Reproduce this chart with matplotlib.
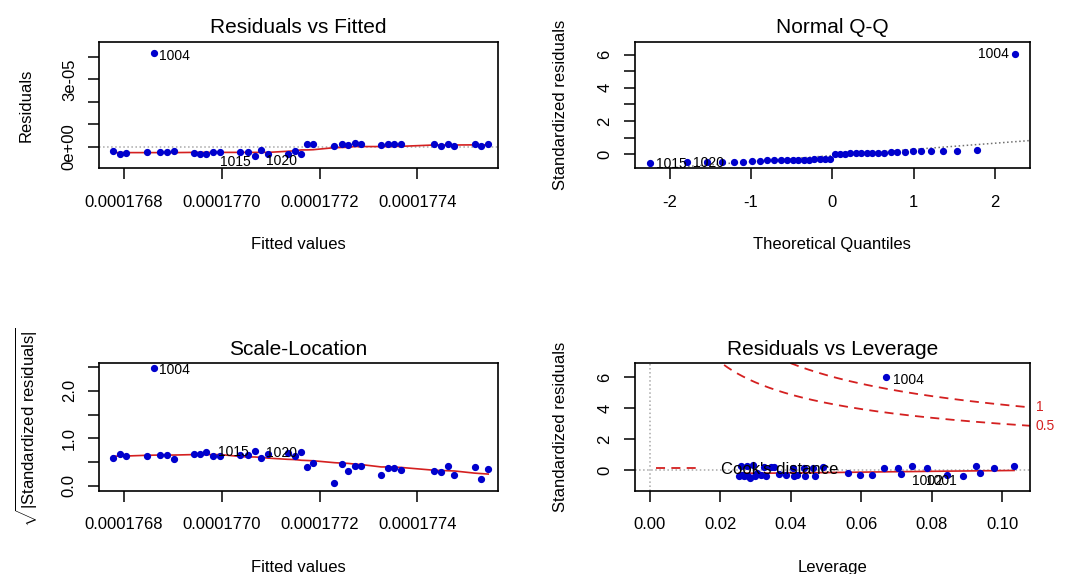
import matplotlib
matplotlib.use("Agg")
import numpy as np
import matplotlib.pyplot as plt

plt.rcParams['font.family'] = ['Liberation Sans', 'DejaVu Sans']
plt.rcParams['mathtext.fontset'] = 'custom'
plt.rcParams['mathtext.rm'] = 'Liberation Sans'
plt.rcParams['mathtext.it'] = 'Liberation Sans:italic'

# fitted values (x 1e-7) with raw residuals (x 1e-5)
fitted = [1767.78, 1767.91, 1768.05, 1768.47, 1768.61, 1768.74, 1768.87, 1769.02,
          1769.43, 1769.55, 1769.68, 1769.82, 1769.97, 1770.38, 1770.54, 1770.67,
          1770.81, 1770.95, 1771.35, 1771.49, 1771.63, 1771.75, 1771.87, 1772.30,
          1772.45, 1772.58, 1772.72, 1772.85, 1773.26, 1773.39, 1773.52, 1773.66,
          1774.35, 1774.49, 1774.63, 1774.76, 1775.17, 1775.31, 1775.45]
resid = [-0.19, -0.32, -0.28, -0.25, 4.16, -0.25, -0.25, -0.18,
         -0.29, -0.31, -0.31, -0.25, -0.25, -0.25, -0.25, -0.40,
         -0.16, -0.32, -0.32, -0.22, -0.32, 0.10, 0.13, 0.04,
         0.13, 0.07, 0.16, 0.10, 0.07, 0.10, 0.10, 0.10,
         0.10, 0.04, 0.10, 0.04, 0.10, 0.04, 0.10]
resid_smooth = [-0.27, -0.27, -0.27, -0.27, -0.27, -0.27, -0.27, -0.27,
                -0.26, -0.26, -0.26, -0.26, -0.26, -0.26, -0.26, -0.26,
                -0.26, -0.26, -0.21, -0.19, -0.15, -0.15, -0.14, -0.05,
                -0.04, -0.03, 0.0, 0.0, 0.0, 0.0, 0.01, 0.01,
                0.07, 0.07, 0.07, 0.07, 0.075, 0.075, 0.075]

# scale-location: sqrt(|standardized residuals|) at the same fitted values
sqrt_std_resid = [0.59, 0.68, 0.63, 0.63, 2.48, 0.66, 0.66, 0.57,
                  0.68, 0.68, 0.71, 0.63, 0.63, 0.66, 0.66, 0.73,
                  0.59, 0.68, 0.70, 0.63, 0.71, 0.40, 0.49, 0.07,
                  0.47, 0.31, 0.43, 0.43, 0.23, 0.37, 0.37, 0.34,
                  0.31, 0.29, 0.43, 0.23, 0.40, 0.15, 0.35]
sqrt_smooth = [0.627, 0.627, 0.63, 0.645, 0.648, 0.65, 0.65, 0.65,
               0.66, 0.66, 0.66, 0.66, 0.66, 0.62, 0.61, 0.61,
               0.60, 0.585, 0.56, 0.555, 0.54, 0.535, 0.53, 0.49,
               0.48, 0.475, 0.46, 0.45, 0.40, 0.40, 0.395, 0.39,
               0.33, 0.325, 0.32, 0.315, 0.27, 0.26, 0.25]

# normal Q-Q
qq_theoretical = [-2.241, -1.780, -1.534, -1.356, -1.213, -1.092, -0.984, -0.887,
                  -0.798, -0.714, -0.636, -0.561, -0.489, -0.419, -0.352, -0.286,
                  -0.221, -0.157, -0.094, -0.031, 0.031, 0.094, 0.157, 0.221,
                  0.286, 0.352, 0.419, 0.489, 0.561, 0.636, 0.714, 0.798,
                  0.887, 0.984, 1.092, 1.213, 1.356, 1.534, 1.780, 2.241]
qq_sample = [-0.54, -0.47, -0.46, -0.46, -0.44, -0.44, -0.43, -0.43,
             -0.37, -0.37, -0.36, -0.36, -0.36, -0.35, -0.35, -0.34,
             -0.29, -0.28, -0.27, -0.27, 0.04, 0.05, 0.05, 0.06,
             0.09, 0.10, 0.10, 0.10, 0.11, 0.11, 0.12, 0.14,
             0.15, 0.18, 0.19, 0.19, 0.20, 0.20, 0.28, 6.05]
qq_line_x = [1.0, 2.4]
qq_line_y = [0.30, 0.82]

# residuals vs leverage
leverage = [0.0253, 0.0258, 0.0262, 0.0267, 0.0275, 0.0279, 0.0286, 0.0294,
            0.0300, 0.0305, 0.0315, 0.0324, 0.0330, 0.0343, 0.0352, 0.0367,
            0.0386, 0.0407, 0.0410, 0.0419, 0.0438, 0.0440, 0.0464, 0.0468,
            0.0492, 0.0562, 0.0597, 0.0630, 0.0664, 0.0672, 0.0704, 0.0713,
            0.0744, 0.0788, 0.0843, 0.0889, 0.0927, 0.0938, 0.0978, 0.1034]
lev_std_resid = [-0.38, 0.30, -0.30, -0.38, 0.25, -0.38, -0.48, 0.32,
                 -0.40, -0.21, -0.32, 0.23, -0.35, 0.23, 0.20, -0.27,
                 -0.29, 0.11, -0.40, -0.29, 0.11, -0.38, 0.11, -0.38,
                 0.23, -0.19, -0.30, -0.30, 0.17, 6.04, 0.17, -0.28,
                 0.25, 0.17, -0.29, -0.38, 0.25, -0.19, 0.17, 0.25]
lev_smooth_x = [0.0253, 0.035, 0.045, 0.056, 0.066, 0.078, 0.090, 0.1034]
lev_smooth_y = [-0.20, -0.19, -0.17, -0.14, -0.11, -0.08, -0.05, -0.02]
cook_levels = [0.5, 1]
n_coef = 2

BLUE = '#0000cd'
RED = '#d42020'
GRAY = '#a8a8a8'


def style(ax, title, xlabel, ylabel, ylab_x):
    ax.set_title(title, fontsize=15, pad=6)
    ax.set_xlabel(xlabel, fontsize=12)
    ax.set_ylabel(ylabel, fontsize=12)
    ax.xaxis.label.set_va('center')
    ax.yaxis.label.set_va('center')
    ax.xaxis.set_label_coords(0.5, -0.60)
    ax.yaxis.set_label_coords(ylab_x, 0.5)
    ax.tick_params(direction='out', length=8, width=1.1, labelsize=12, pad=11)
    ax.tick_params(axis='y', labelrotation=90, pad=8)
    for lab in ax.get_yticklabels():
        lab.set_va('center')
    for s in ax.spines.values():
        s.set_linewidth(1.2)


fig = plt.figure(figsize=(10.65, 5.74), dpi=100)
ax1 = fig.add_axes([0.0930, 0.7068, 0.3746, 0.2206])
ax2 = fig.add_axes([0.5958, 0.7068, 0.3716, 0.2206])
ax3 = fig.add_axes([0.0930, 0.1451, 0.3746, 0.2220])
ax4 = fig.add_axes([0.5958, 0.1451, 0.3716, 0.2220])

fx = np.array(fitted) * 1e-7
xticks = [1768e-7, 1770e-7, 1772e-7, 1774e-7]
xlabels = ['0.0001768', '0.0001770', '0.0001772', '0.0001774']
MS = 4.2

# Residuals vs Fitted
ax1.axhline(0, color=GRAY, ls=':', lw=1.1)
ax1.plot(fx, np.array(resid_smooth) * 1e-5, color=RED, lw=1.2)
ax1.plot(fx, np.array(resid) * 1e-5, 'o', color=BLUE, ms=MS)
ax1.set_xlim(1767.49e-7, 1775.65e-7)
ax1.set_ylim(-0.97e-5, 4.68e-5)
ax1.set_xticks(xticks, xlabels)
ax1.set_yticks([0, 1e-5, 2e-5, 3e-5, 4e-5], ['0e+00', '', '', '3e-05', ''])
ax1.text(1768.71e-7, 4.04e-5, '1004', fontsize=10, va='center')
ax1.text(1769.96e-7, -0.68e-5, '1015', fontsize=10, va='center')
ax1.text(1770.91e-7, -0.63e-5, '1020', fontsize=10, va='center')
style(ax1, 'Residuals vs Fitted', 'Fitted values', 'Residuals', -0.184)

# Normal Q-Q
ax2.axline((qq_line_x[0], qq_line_y[0]), (qq_line_x[1], qq_line_y[1]),
           color='#707070', ls=':', lw=1.1)
ax2.plot(qq_theoretical, qq_sample, 'o', color=BLUE, ms=MS)
ax2.set_xlim(-2.43, 2.43)
ax2.set_ylim(-0.84, 6.78)
ax2.set_xticks([-2, -1, 0, 1, 2], ['-2', '-1', '0', '1', '2'])
ax2.set_yticks(range(7), ['0', '', '2', '', '4', '', '6'])
ax2.text(qq_theoretical[0] + 0.07, qq_sample[0] - 0.06, '1015', fontsize=10, va='center')
ax2.text(qq_theoretical[1] + 0.07, qq_sample[1] - 0.06, '1020', fontsize=10, va='center')
ax2.text(qq_theoretical[-1] - 0.07, qq_sample[-1], '1004', fontsize=10, va='center', ha='right')
style(ax2, 'Normal Q-Q', 'Theoretical Quantiles', 'Standardized residuals', -0.186)

# Scale-Location
ax3.plot(fx, sqrt_smooth, color=RED, lw=1.2)
ax3.plot(fx, sqrt_std_resid, 'o', color=BLUE, ms=MS)
ax3.set_xlim(1767.49e-7, 1775.65e-7)
ax3.set_ylim(-0.10, 2.58)
ax3.set_xticks(xticks, xlabels)
ax3.set_yticks([0, 0.5, 1, 1.5, 2, 2.5], ['0.0', '', '1.0', '', '2.0', ''])
ax3.text(1768.71e-7, 2.43, '1004', fontsize=10, va='center')
ax3.text(1769.92e-7, 0.71, '1015', fontsize=10, va='center')
ax3.text(1770.91e-7, 0.69, '1020', fontsize=10, va='center')
style(ax3, 'Scale-Location', 'Fitted values',
      r'$\sqrt{|\mathrm{Standardized\ residuals}|}$', -0.180)

# Residuals vs Leverage
xmax = 0.108
ax4.axhline(0, color=GRAY, ls=':', lw=1.1)
ax4.axvline(0, color=GRAY, ls=':', lw=1.1)
hh = np.linspace(0.0005, xmax, 300)
for c in cook_levels:
    cl = np.sqrt(c * n_coef * (1 - hh) / hh)
    ax4.plot(hh, cl, color=RED, ls=(0, (5, 3.5)), lw=1.3)
    ax4.plot(hh, -cl, color=RED, ls=(0, (5, 3.5)), lw=1.3)
    ax4.text(xmax + 0.0015, np.sqrt(c * n_coef * (1 - xmax) / xmax), f'{c:g}',
             color=RED, fontsize=10, va='center', clip_on=False)
ax4.plot(lev_smooth_x, lev_smooth_y, color=RED, lw=1.2)
ax4.plot(leverage, lev_std_resid, 'o', color=BLUE, ms=MS)
ax4.set_xlim(-0.0043, xmax)
ax4.set_ylim(-1.33, 6.92)
ax4.set_xticks([0, 0.02, 0.04, 0.06, 0.08, 0.10],
               ['0.00', '0.02', '0.04', '0.06', '0.08', '0.10'])
ax4.set_yticks([0, 2, 4, 6], ['0', '2', '4', '6'])
ax4.text(0.0690, 5.85, '1004', fontsize=10, va='center')
ax4.text(0.0745, -0.71, '1002', fontsize=10, va='center')
ax4.text(0.0785, -0.73, '1001', fontsize=10, va='center')
ax4.plot([], [], color=RED, ls=(0, (5, 3.5)), lw=1.3, label="Cook's distance")
ax4.legend(loc='center left', bbox_to_anchor=(0.055, 0.17), frameon=False,
           fontsize=12, handlelength=2.6, handletextpad=1.3,
           borderpad=0, borderaxespad=0)
style(ax4, 'Residuals vs Leverage', 'Leverage', 'Standardized residuals', -0.186)

fig.savefig('out.png', dpi=100)
